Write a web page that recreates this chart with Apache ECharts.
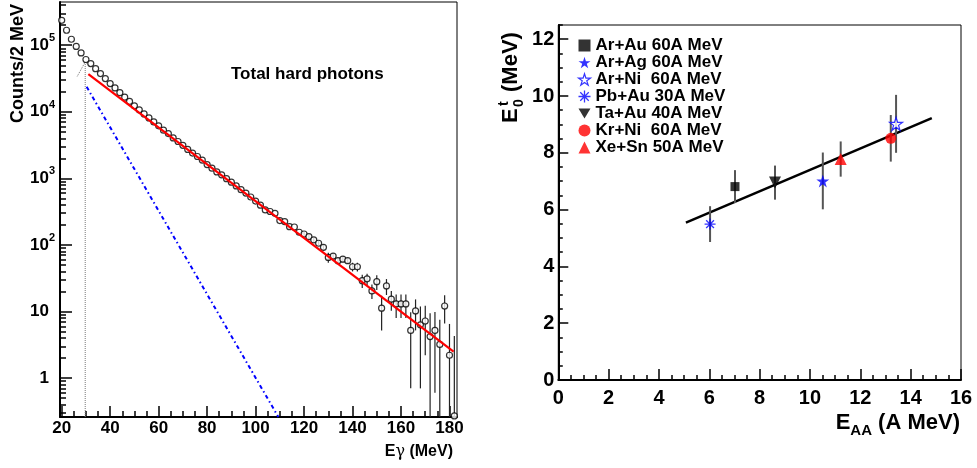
<!DOCTYPE html>
<html>
<head>
<meta charset="utf-8">
<script src="https://cdn.jsdelivr.net/npm/echarts@6/dist/echarts.min.js"></script>
<style>
html, body { margin: 0; padding: 0; background: #fff; }
#chart { width: 977px; height: 468px; }
</style>
</head>
<body>
<div id="chart"></div>
<script>
// ---- left panel : total hard photon spectrum (counts per 2 MeV bin)
var eGamma = [20, 22, 24, 26, 28, 30, 32, 34, 36, 38, 40, 42, 44, 46, 48, 50, 52, 54, 56, 58,
  60, 62, 64, 66, 68, 70, 72, 74, 76, 78, 80, 82, 84, 86, 88, 90, 92, 94, 96, 98,
  100, 102, 104, 106, 108, 110, 112, 114, 116, 118, 120, 122, 124, 126, 128, 130, 132, 134, 136, 138,
  140, 142, 144, 146, 148, 150, 152, 154, 156, 158, 160, 162, 164, 166, 168, 170, 172, 174, 176, 178,
  180, 182]
var counts = [237000, 168000, 123000, 96000, 76500, 61000, 53000, 44500, 37500, 31500,
  26500, 22800, 19400, 16600, 14300, 12300, 10700, 9300, 8100, 7050,
  6150, 5300, 4700, 4050, 3580, 3130, 2720, 2400, 2130, 1880,
  1610, 1420, 1250, 1130, 990, 875, 770, 675, 600, 525,
  455, 395, 335, 318, 298, 232, 224, 188, 186, 155,
  146, 133, 119, 106, 92, 65, 68, 58, 61, 58,
  47, 47, 29, 31, 20.4, 28, 11.2, 24.2, 15.3, 13,
  13, 13, 5.2, 10.2, 6.3, 7.2, 4.2, 5.2, 3.2, 12.1,
  2.2, 0.27]
var countErr = [0, 0, 0, 0, 0, 0, 0, 0, 0, 0,
  0, 0, 0, 0, 0, 0, 0, 0, 0, 0,
  0, 0, 0, 0, 0, 0, 0, 0, 0, 0,
  0, 0, 0, 0, 0, 0, 0, 0, 0, 0,
  0, 0, 0, 0, 0, 0, 0, 0, 0, 0,
  10, 10, 9, 9, 9, 11, 7, 6, 6, 6,
  7, 7, 6.5, 6, 5, 7, 6, 6.5, 5, 5,
  5, 5, 4.5, 5, 5.6, 5, 5.2, 4.6, 4.3, 5.5,
  4.3, 4]

// exponential fits (straight lines on the log axis)
var hardFitE = [31, 181.7]
var hardFitC = [36700, 2.5]
var softFitE = [30.3, 109.4]
var softFitC = [23700, 0.26]
var cutE = [29.7, 29.7]
var cutC = [0.26, 56000]
var sumE = [26.4, 29.7, 32]
var sumC = [34000, 56000, 47000]

var leftXTicks = [20, 40, 60, 80, 100, 120, 140, 160, 180]
var leftYTicks = [1, 10, 100, 1000, 10000, 100000]

// ---- right panel : slope parameter vs beam energy
var systems = ['Ar+Au 60A MeV', 'Ar+Ag 60A MeV', 'Ar+Ni  60A MeV', 'Pb+Au 30A MeV',
  'Ta+Au 40A MeV', 'Kr+Ni  60A MeV', 'Xe+Sn 50A MeV']
var eAA = [7.02, 10.51, 13.42, 6.03, 8.61, 13.21, 11.22]
var slopeE0 = [6.81, 7.01, 9.02, 5.49, 6.95, 8.51, 7.78]
var slopeErr = [0.58, 1.0, 1.02, 0.63, 0.6, 0.82, 0.62]
var trendX = [5.07, 14.84]
var trendY = [5.54, 9.22]

var rightXTicks = [0, 2, 4, 6, 8, 10, 12, 14, 16]
var rightYTicks = [0, 2, 4, 6, 8, 10, 12]

var FONT = 'Liberation Sans, Arial, Helvetica, sans-serif'
var STAR = 'path://M10,0L12.25,6.91L19.51,6.91L13.63,11.18L15.88,18.09L10,13.82L4.12,18.09L6.37,11.18L0.49,6.91L7.75,6.91Z'
var ASTER = 'path://M10,0L10,20M0,10L20,10M2.9,2.9L17.1,17.1M2.9,17.1L17.1,2.9'
var TRI_DOWN = 'path://M0,0L20,0L10,17Z'

// marker look of each system, same order as systems
var markStyle = [
  {symbol: 'rect', size: 9, item: {color: '#000'}},
  {symbol: STAR, size: 13, item: {color: '#0000ff'}},
  {symbol: STAR, size: 13, item: {color: '#fff', borderColor: '#0000ff', borderWidth: 1.2}},
  {symbol: ASTER, size: 11, item: {color: 'none', borderColor: '#0000ff', borderWidth: 1.3}},
  {symbol: TRI_DOWN, size: 12, item: {color: '#000'}},
  {symbol: 'circle', size: 11, item: {color: '#ff0000'}},
  {symbol: 'triangle', size: 12, item: {color: '#ff0000'}}
]

function minorTicks(from, to, step, majors) {
  var out = []
  for (var v = from; v <= to + 1e-9; v += step) {
    var r = Math.round(v * 100) / 100
    if (majors.indexOf(r) < 0) out.push(r)
  }
  return out
}
var leftYMinor = []
;[0.1, 1, 10, 100, 1000, 10000, 100000].forEach(function (d) {
  for (var k = 2; k <= 9; k++) leftYMinor.push(d * k)
})

var tickLine = {color: '#000', width: 1.5}
var labelFont = {fontFamily: FONT, fontWeight: 'bold', color: '#000'}

function majorAxis(grid, type, min, max, ticks, len, label) {
  return {
    gridIndex: grid, type: type, min: min, max: max,
    axisLine: {lineStyle: {color: '#000', width: 2}},
    axisTick: {inside: true, length: len, customValues: ticks, lineStyle: tickLine},
    axisLabel: Object.assign({customValues: ticks}, labelFont, label),
    splitLine: {show: false}
  }
}
function minorAxis(grid, type, min, max, ticks, len, pos) {
  return {
    gridIndex: grid, type: type, min: min, max: max, position: pos,
    axisLine: {show: false},
    axisTick: {inside: true, length: len, customValues: ticks, lineStyle: tickLine},
    axisLabel: {show: false},
    splitLine: {show: false}
  }
}

var LX = [19.3, 183.1], LY = [0.26, 446000], RX = [0, 16], RY = [0, 12.5]

var option = {
  animation: false,
  backgroundColor: '#fff',
  grid: [
    {left: 60, top: 2, width: 397, height: 415, show: true, borderColor: '#000', borderWidth: 1},
    {left: 558.3, top: 25, width: 402.7, height: 355, show: true, borderColor: '#000', borderWidth: 1}
  ],
  xAxis: [
    majorAxis(0, 'value', LX[0], LX[1], leftXTicks, 11, {fontSize: 17, margin: 3}),
    minorAxis(0, 'value', LX[0], LX[1], minorTicks(20, 180, 5, leftXTicks), 6, 'bottom'),
    majorAxis(1, 'value', RX[0], RX[1], rightXTicks, 11, {fontSize: 20, margin: 8}),
    minorAxis(1, 'value', RX[0], RX[1], minorTicks(0, 16, 0.5, rightXTicks), 5, 'bottom')
  ],
  yAxis: [
    majorAxis(0, 'log', LY[0], LY[1], leftYTicks, 12, {
      margin: 5,
      formatter: function (v) {
        var p = Math.round(Math.log10(v))
        if (p === 0) return '{b|1}{sp|}'
        if (p === 1) return '{b|10}{sp|}'
        return '{b|10}{s|' + p + '}'
      },
      rich: {
        b: {fontSize: 17, fontWeight: 'bold', fontFamily: FONT, color: '#000'},
        s: {fontSize: 11, fontWeight: 'bold', fontFamily: FONT, color: '#000', padding: [0, 0, 14, 0]},
        sp: {width: 6}
      }
    }),
    minorAxis(0, 'log', LY[0], LY[1], leftYMinor, 6, 'left'),
    majorAxis(1, 'value', RY[0], RY[1], rightYTicks, 10, {fontSize: 20, margin: 4}),
    minorAxis(1, 'value', RY[0], RY[1], minorTicks(0, 12.5, 0.5, rightYTicks), 4.5, 'left')
  ],
  legend: {
    orient: 'vertical', left: 571, top: 32,
    itemWidth: 12, itemHeight: 12, itemGap: 0,
    selectedMode: false,
    textStyle: {fontSize: 17, fontWeight: 'bold', fontFamily: FONT, color: '#000', lineHeight: 17},
    data: systems.map(function (s, i) {
      return {name: s, icon: markStyle[i].symbol, itemStyle: markStyle[i].item}
    })
  },
  graphic: [
    {type: 'text', x: 231, y: 66, style: {text: 'Total hard photons', font: 'bold 17px ' + FONT, fill: '#000'}},
    {type: 'text', x: 18, y: 123, rotation: Math.PI / 2,
      style: {text: 'Counts/2 MeV', font: 'bold 18px ' + FONT, fill: '#000', verticalAlign: 'middle'}},
    {type: 'text', x: 453, y: 452, style: {
      text: '{b|E}{g|γ}{b| (MeV)}', align: 'right', verticalAlign: 'middle',
      rich: {
        b: {font: 'bold 16px ' + FONT, fill: '#000'},
        g: {font: '16px DejaVu Serif', fill: '#000'}
      }}},
    {type: 'text', x: 960, y: 423, style: {
      text: '{b|E}{s|AA}{b| (A MeV)}', align: 'right', verticalAlign: 'middle',
      rich: {
        b: {font: 'bold 22px ' + FONT, fill: '#000'},
        s: {font: 'bold 15px ' + FONT, fill: '#000', padding: [16, 0, 0, 0]}
      }}},
    {type: 'group', x: 511, y: 123, rotation: Math.PI / 2, children: [
      {type: 'text', x: 0, y: 0, style: {text: 'E', font: 'bold 22px ' + FONT, fill: '#000', verticalAlign: 'middle'}},
      {type: 'text', x: 16, y: 8, style: {text: '0', font: 'bold 14px ' + FONT, fill: '#000', verticalAlign: 'middle'}},
      {type: 'text', x: 17, y: -7, style: {text: 't', font: 'bold 14px ' + FONT, fill: '#000', verticalAlign: 'middle'}},
      {type: 'text', x: 31, y: 0, style: {text: '(MeV)', font: 'bold 22px ' + FONT, fill: '#000', verticalAlign: 'middle'}}
    ]}
  ],
  series: []
}

// left panel series
option.series.push({
  type: 'custom', xAxisIndex: 0, yAxisIndex: 0, z: 2, silent: true,
  data: eGamma.map(function (e, i) { return [e, counts[i], countErr[i]] }),
  renderItem: function (params, api) {
    var err = api.value(2)
    if (!err) return null
    var y = api.value(1)
    var top = api.coord([api.value(0), y + err])
    var bot = api.coord([api.value(0), Math.max(y - err, LY[0])])
    return {type: 'line', shape: {x1: top[0], y1: top[1], x2: bot[0], y2: bot[1]},
      style: {stroke: '#222', lineWidth: 1.2}}
  }
})
option.series.push({
  type: 'line', xAxisIndex: 0, yAxisIndex: 0, z: 1, symbol: 'none', silent: true,
  data: cutE.map(function (e, i) { return [e, cutC[i]] }),
  lineStyle: {color: '#777', width: 1, type: 'dotted'}
})
option.series.push({
  type: 'line', xAxisIndex: 0, yAxisIndex: 0, z: 1, symbol: 'none', silent: true,
  data: sumE.map(function (e, i) { return [e, sumC[i]] }),
  lineStyle: {color: '#777', width: 1, type: 'dotted'}
})
option.series.push({
  type: 'scatter', xAxisIndex: 0, yAxisIndex: 0, z: 3, silent: true,
  data: eGamma.map(function (e, i) { return [e, counts[i]] }),
  symbol: 'circle', symbolSize: 6,
  itemStyle: {color: '#fff', borderColor: '#000', borderWidth: 1.2}
})
option.series.push({
  type: 'line', xAxisIndex: 0, yAxisIndex: 0, z: 4, symbol: 'none', silent: true,
  data: hardFitE.map(function (e, i) { return [e, hardFitC[i]] }),
  lineStyle: {color: '#ff0000', width: 2.2}
})
option.series.push({
  type: 'line', xAxisIndex: 0, yAxisIndex: 0, z: 4, symbol: 'none', silent: true,
  data: softFitE.map(function (e, i) { return [e, softFitC[i]] }),
  lineStyle: {color: '#0000ff', width: 2, type: [4, 3, 1.5, 3]}
})

// right panel series
option.series.push({
  type: 'line', xAxisIndex: 2, yAxisIndex: 2, z: 1, symbol: 'none', silent: true,
  data: trendX.map(function (x, i) { return [x, trendY[i]] }),
  lineStyle: {color: '#000', width: 2.5}
})
option.series.push({
  type: 'custom', xAxisIndex: 2, yAxisIndex: 2, z: 2, silent: true,
  data: eAA.map(function (x, i) { return [x, slopeE0[i], slopeErr[i]] }),
  renderItem: function (params, api) {
    var x = api.value(0), y = api.value(1), err = api.value(2)
    var top = api.coord([x, y + err])
    var bot = api.coord([x, y - err])
    return {type: 'line', shape: {x1: top[0], y1: top[1], x2: bot[0], y2: bot[1]},
      style: {stroke: '#555', lineWidth: 2}}
  }
})
systems.forEach(function (s, i) {
  option.series.push({
    name: s, type: 'scatter', xAxisIndex: 2, yAxisIndex: 2, z: 3, silent: true,
    data: [[eAA[i], slopeE0[i]]],
    symbol: markStyle[i].symbol, symbolSize: markStyle[i].size,
    itemStyle: markStyle[i].item
  })
})

var chart = echarts.init(document.getElementById('chart'))
chart.setOption(option)
</script>
</body>
</html>
